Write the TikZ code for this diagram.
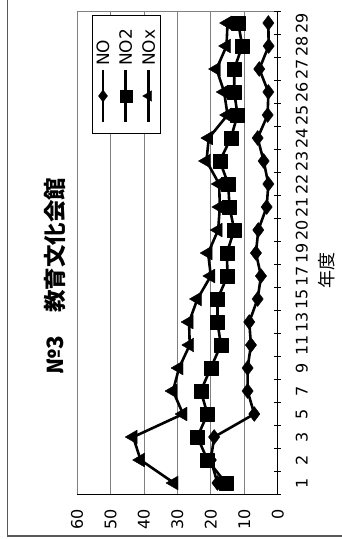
\documentclass[tikz,border=0pt]{standalone}
\usepackage{fontspec}
\setmainfont{DejaVu Sans}
\newfontfamily\cjk{Noto Sans CJK JP}
\usepackage{tikz}
\usetikzlibrary{plotmarks}
\definecolor{gridgray}{rgb}{0.5,0.5,0.5}
\definecolor{framegray}{rgb}{0.35,0.35,0.35}

\tikzset{
  gridline/.style={gridgray, line width=0.8pt},
  axisline/.style={black, line width=1.5pt},
  dataline/.style={black, line width=2.6pt, line join=round},
  lbl/.style={font=\fontsize{16}{16}\selectfont, rotate=90, inner sep=0pt},
  NOmark/.style={mark=diamond*, mark size=7.5pt, mark options={solid, fill=black, line width=0.4pt}},
  NOtwomark/.style={mark=square*, mark size=7pt, mark options={solid, fill=black, line width=0.4pt}},
  NOxmark/.style={mark=triangle*, mark size=8pt, mark options={solid, rotate=90, fill=black, line width=0.4pt}},
}

\begin{document}
\begin{tikzpicture}[x=1pt,y=1pt]
\useasboundingbox (0,0) rectangle (342,539);

% chart area border
\draw[framegray, line width=1.2pt] (7.5,539) -- (7.5,3) -- (342,3);

\begin{scope}[shift={(277.7pt,56pt)}, x={(-3.345pt,0pt)}, y={(0pt,23pt)}]
  % grid and frame
  \foreach \v in {10,20,...,60}
    \draw[gridline] (\v,-0.5) -- (\v,20.5);
  \draw[gridline] (0,20.5) -- (60,20.5);
  \draw[axisline] (0,20.5) -- (0,-0.5) -- (60,-0.5);
  \foreach \i in {-0.5,0.5,...,20.5}
    \draw[black, line width=1pt] (1.1,\i) -- (-1.1,\i);

  % value labels
  \foreach \v in {0,10,...,60}
    \node[lbl, anchor=east] (val\v) at (\v,-1.12) {\v};

  % year labels
  \foreach \c [count=\i from 0] in {1,2,3,5,7,9,11,13,15,17,19,20,21,22,23,24,25,26,27,28,29}
    \node[lbl] (yr\c) at (-7.17,\i) {\c};

  % NO
  \draw[dataline, NOmark] plot coordinates {(18,0) (20,1) (19,2) (7,3) (9,4) (9,5) (8,6) (8.5,7) (6,8) (5,9) (6.5,10) (5.8,11) (3.3,12) (2.8,13) (4.2,14) (6,15) (3,16) (2.8,17) (5.5,18) (2.7,19) (2.8,20)};
  % NO2
  \draw[dataline, NOtwomark] plot coordinates {(15.5,0) (21,1) (24,2) (21,3) (23,4) (20,5) (17,6) (18,7) (18,8) (15,9) (15.2,10) (13,11) (14.4,12) (14.8,13) (17.3,14) (14,15) (12,16) (13,17) (13,18) (10.6,19) (11.8,20)};
  % NOx
  \draw[dataline, NOxmark] plot coordinates {(31,0) (41,1) (43.2,2) (28.3,3) (31.3,4) (29.5,5) (26.3,6) (26.5,7) (24,8) (20,9) (20.8,10) (17.8,11) (17.3,12) (17.5,13) (21.3,14) (20.6,15) (15,16) (16,17) (18.3,18) (15.3,19) (15,20)};
\end{scope}

% legend
\draw[black, line width=0.8pt, fill=white] (92,524) rectangle (160.7,405.7);
\foreach \x/\mk/\txt in {103/NOmark/NO, 125.7/NOtwomark/NO2, 148.7/NOxmark/NOx} {
  \draw[dataline] (\x,469) -- (\x,417.3);
  \path[\mk, mark size=6pt] plot coordinates {(\x,443)};
  \node[lbl, font=\fontsize{17}{17}\selectfont, anchor=west] (leg\txt) at (\x,473) {\txt};
}

% titles
\node[rotate=90, font=\cjk\bfseries\fontsize{22.5}{22.5}\selectfont] (title) at (55,263) {№3　教育文化会館};
\node[rotate=90, font=\cjk\fontsize{18}{18}\selectfont] (xtitle) at (327,268) {年度};
\end{tikzpicture}
\end{document}
